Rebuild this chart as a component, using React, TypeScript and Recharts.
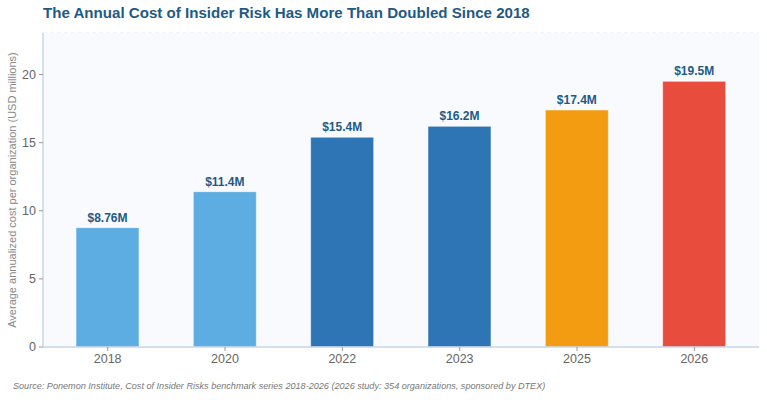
import React from "react";
import {
  BarChart,
  Bar,
  XAxis,
  YAxis,
  CartesianGrid,
  Cell,
  LabelList,
} from "recharts";

const years = ["2018", "2020", "2022", "2023", "2025", "2026"];
const costs = [8.76, 11.4, 15.4, 16.2, 17.4, 19.5];
const costLabels = ["$8.76M", "$11.4M", "$15.4M", "$16.2M", "$17.4M", "$19.5M"];
const barColors = ["#5dade2", "#5dade2", "#2e75b6", "#2e75b6", "#f39c12", "#e74c3c"];
const yTicks = [0, 5, 10, 15, 20];

const data = years.map((year, i) => ({
  year,
  cost: costs[i],
  label: costLabels[i],
}));

const FONT = "'Liberation Sans', Arial, Helvetica, sans-serif";

export default function App() {
  return (
    <div
      style={{
        position: "absolute",
        top: 0,
        left: 0,
        width: 767,
        height: 400,
        background: "#ffffff",
        fontFamily: FONT,
      }}
    >
      <div
        style={{
          position: "absolute",
          left: 43,
          top: 4,
          fontSize: 15.1,
          fontWeight: 700,
          color: "#1f5a85",
          whiteSpace: "nowrap",
        }}
      >
        The Annual Cost of Insider Risk Has More Than Doubled Since 2018
      </div>
      <BarChart
        width={767}
        height={400}
        data={data}
        margin={{ top: 33, right: 8, left: 0, bottom: 23 }}
        barSize={63}
        style={{ fontFamily: FONT }}
      >
        <rect x={43} y={33} width={716} height={314} fill="#f8fafd" />
        <CartesianGrid
          vertical={false}
          strokeDasharray="4 3"
          stroke="#e3e8f0"
        />
        <XAxis
          dataKey="year"
          height={30}
          padding={{ left: 6, right: 6 }}
          axisLine={{ stroke: "#c8d6ea", strokeWidth: 1.5 }}
          tickLine={{ stroke: "#999999" }}
          tickSize={4}
          tick={{ fill: "#666666", fontSize: 12.5 }}
          tickMargin={3}
        />
        <YAxis
          width={43}
          domain={[0, 23.05]}
          ticks={yTicks}
          axisLine={{ stroke: "#c8d6ea", strokeWidth: 1.5 }}
          tickLine={{ stroke: "#999999" }}
          tickSize={4}
          tick={{ fill: "#666666", fontSize: 12.5 }}
          tickMargin={3}
          label={{
            value: "Average annualized cost per organization (USD millions)",
            angle: -90,
            position: "center",
            dx: -9,
            style: { fill: "#888888", fontSize: 11, textAnchor: "middle" },
          }}
        />
        <Bar
          dataKey="cost"
          isAnimationActive={false}
          stroke="#ffffff"
          strokeOpacity={0.5}
          strokeWidth={1}
        >
          {data.map((d, i) => (
            <Cell key={d.year} fill={barColors[i]} />
          ))}
          <LabelList
            dataKey="label"
            position="top"
            offset={6}
            style={{ fill: "#1f5a85", fontSize: 12, fontWeight: 700 }}
          />
        </Bar>
      </BarChart>
      <div
        style={{
          position: "absolute",
          left: 13,
          top: 381,
          fontSize: 9.1,
          fontStyle: "italic",
          color: "#777777",
          whiteSpace: "nowrap",
        }}
      >
        Source: Ponemon Institute, Cost of Insider Risks benchmark series 2018-2026 (2026 study: 354 organizations, sponsored by DTEX)
      </div>
    </div>
  );
}
